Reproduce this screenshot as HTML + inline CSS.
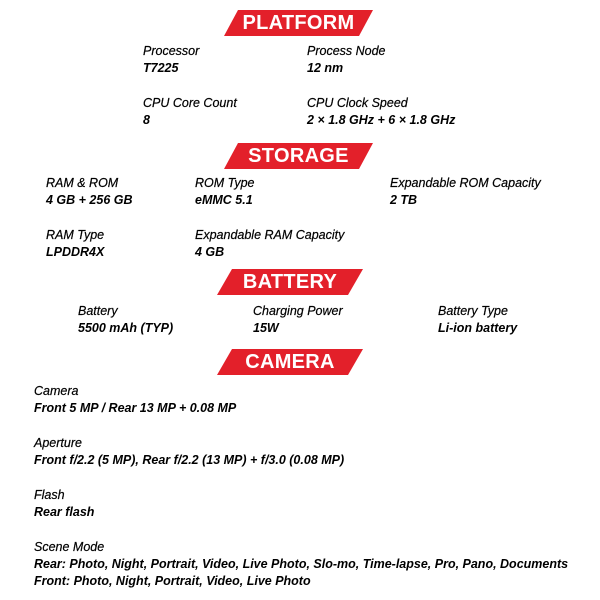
<!DOCTYPE html>
<html><head><meta charset="utf-8"><style>
body{margin:0;width:600px;height:600px;background:#fff;position:relative;overflow:hidden;font-family:"Liberation Sans",sans-serif;}
.t{position:absolute;font-style:italic;font-size:12.5px;color:#000;white-space:nowrap;line-height:17px;-webkit-text-stroke:0.2px #000;}
.t b{font-weight:bold;-webkit-text-stroke:0;}
.bn{position:absolute;}
.bn span{position:absolute;left:0;right:0;top:0;text-align:center;color:#fff;font-weight:bold;font-size:20px;line-height:26px;letter-spacing:0.3px;}
</style></head><body>
<div class="bn" style="left:224px;top:10px;width:149px;height:26px"><svg width="149" height="26"><polygon points="14,0 149,0 135,26 0,26" fill="#e3202a"/></svg><span>PLATFORM</span></div>
<div class="bn" style="left:224px;top:143px;width:149px;height:26px"><svg width="149" height="26"><polygon points="14,0 149,0 135,26 0,26" fill="#e3202a"/></svg><span>STORAGE</span></div>
<div class="bn" style="left:217px;top:269px;width:146px;height:26px"><svg width="146" height="26"><polygon points="15,0 146,0 131,26 0,26" fill="#e3202a"/></svg><span>BATTERY</span></div>
<div class="bn" style="left:217px;top:349px;width:146px;height:26px"><svg width="146" height="26"><polygon points="15,0 146,0 131,26 0,26" fill="#e3202a"/></svg><span>CAMERA</span></div>

<div class="t" style="left:143px;top:43px">Processor<br><b>T7225</b></div>
<div class="t" style="left:307px;top:43px">Process Node<br><b>12 nm</b></div>
<div class="t" style="left:143px;top:95px">CPU Core Count<br><b>8</b></div>
<div class="t" style="left:307px;top:95px">CPU Clock Speed<br><b>2 × 1.8 GHz + 6 × 1.8 GHz</b></div>

<div class="t" style="left:46px;top:175px">RAM &amp; ROM<br><b>4 GB + 256 GB</b></div>
<div class="t" style="left:195px;top:175px">ROM Type<br><b>eMMC 5.1</b></div>
<div class="t" style="left:390px;top:175px">Expandable ROM Capacity<br><b>2 TB</b></div>
<div class="t" style="left:46px;top:227px">RAM Type<br><b>LPDDR4X</b></div>
<div class="t" style="left:195px;top:227px">Expandable RAM Capacity<br><b>4 GB</b></div>

<div class="t" style="left:78px;top:303px">Battery<br><b>5500 mAh (TYP)</b></div>
<div class="t" style="left:253px;top:303px">Charging Power<br><b>15W</b></div>
<div class="t" style="left:438px;top:303px">Battery Type<br><b>Li-ion battery</b></div>

<div class="t" style="left:34px;top:383px">Camera<br><b>Front 5 MP / Rear 13 MP + 0.08 MP</b></div>
<div class="t" style="left:34px;top:435px">Aperture<br><b>Front f/2.2 (5 MP), Rear f/2.2 (13 MP) + f/3.0 (0.08 MP)</b></div>
<div class="t" style="left:34px;top:487px">Flash<br><b>Rear flash</b></div>
<div class="t" style="left:34px;top:539px">Scene Mode<br><b>Rear: Photo, Night, Portrait, Video, Live Photo, Slo-mo, Time-lapse, Pro, Pano, Documents</b><br><b>Front: Photo, Night, Portrait, Video, Live Photo</b></div>
</body></html>
